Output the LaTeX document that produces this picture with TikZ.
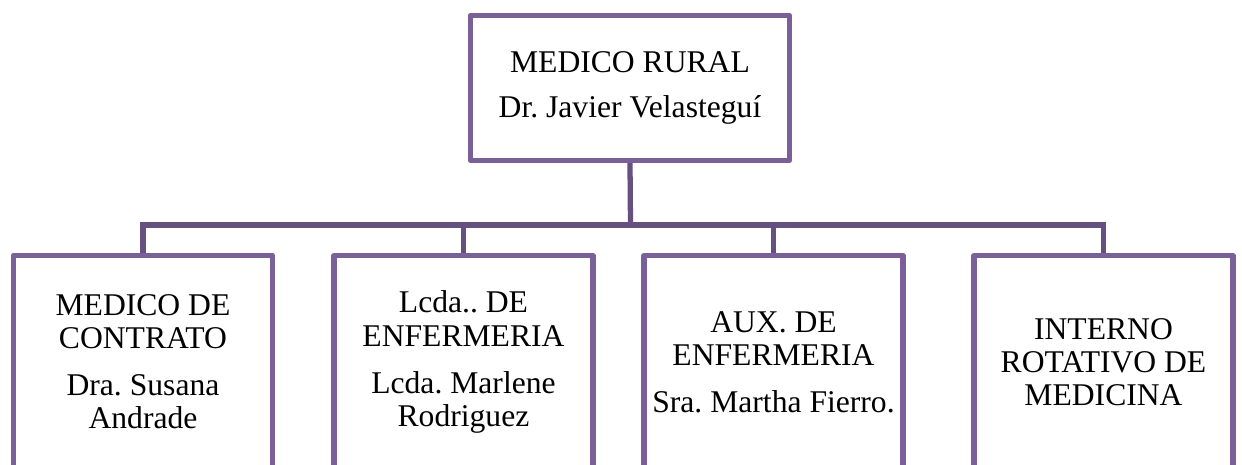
\documentclass[tikz,border=0pt]{standalone}
\usepackage{fontspec}
\setmainfont{Liberation Serif}
\usepackage{tikz}
\frenchspacing
\definecolor{boxline}{RGB}{122,95,152}
\definecolor{linkline}{RGB}{102,80,128}
\tikzset{
  chief/.style={draw=boxline, line width=3pt, line join=round, fill=white,
    minimum width=6.38cm, minimum height=2.9cm, align=center,
    font=\fontsize{18}{18.8}\selectfont},
  staff/.style={draw=boxline, line width=3pt, line join=round, fill=white,
    minimum width=5.18cm, minimum height=4.26cm, align=center,
    font=\fontsize{18}{18.8}\selectfont},
  link/.style={draw=linkline, line width=3pt}
}
\begin{document}
\begin{tikzpicture}[x=0.02cm, y=-0.02cm]
    \useasboundingbox (0,0) rectangle (1242,465);
    \clip (0,0) rectangle (1242,465);
    % jefe
    \node[chief] (rural) at (630,88) {MEDICO RURAL\\[7pt]Dr. Javier Velasteguí};
    % personal
    \node[staff] (contrato) at (143,362) {MEDICO DE\\CONTRATO\\[8pt]Dra. Susana\\Andrade};
    \node[staff] (lcda) at (463.5,362) {Lcda.. DE\\ENFERMERIA\\[8pt]Lcda. Marlene\\Rodriguez};
    \node[staff] (aux) at (773.5,362) {AUX. DE\\ENFERMERIA\\[8pt]Sra. Martha Fierro.};
    \node[staff] (interno) at (1103.5,362) {INTERNO\\ROTATIVO DE\\MEDICINA};
    \coordinate (bus) at (630.5,225);
    \draw[link] (rural.south) -- (bus);
    \draw[link] (contrato.north) |- (bus) -| (interno.north);
    \draw[link] (lcda.north) -- (lcda.north |- bus);
    \draw[link] (aux.north) -- (aux.north |- bus);
\end{tikzpicture}
\end{document}
